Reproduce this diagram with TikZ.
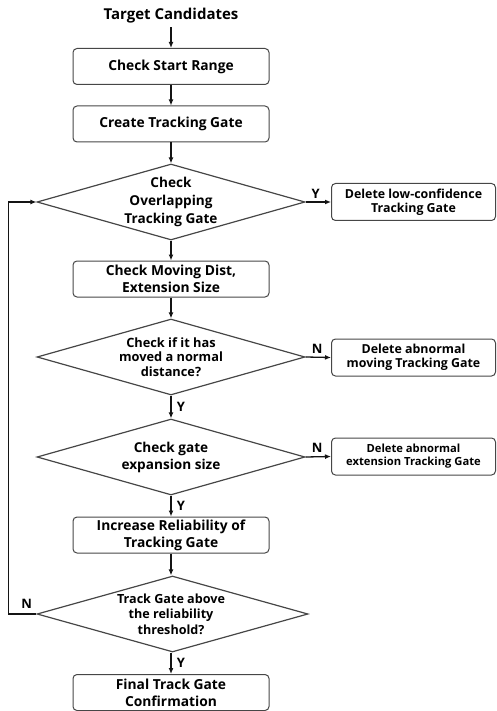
\documentclass[tikz,border=0pt]{standalone}
\usepackage{fontspec}
\setmainfont{Open Sans}
\usetikzlibrary{arrows.meta,positioning,shapes.geometric}
\definecolor{edgecol}{RGB}{70,70,70}
\definecolor{linecol}{RGB}{20,20,20}

\begin{document}
\begin{tikzpicture}[x=1pt,y=-1pt,
   box/.style={draw=edgecol,line width=1pt,rounded corners=4pt,minimum width=196pt,
     minimum height=36pt,inner sep=1pt,align=center,font=\fontsize{13.8}{17}\selectfont\bfseries},
   side/.style={draw=edgecol,line width=1pt,rounded corners=4pt,minimum width=164pt,
     minimum height=37pt,inner sep=1pt,align=center,font=\fontsize{12.4}{14}\selectfont\bfseries},
   decision/.style={diamond,draw=edgecol,line width=1.2pt,minimum width=268pt,
     minimum height=76pt,inner sep=0pt},
   dtext/.style={align=center,inner sep=0pt},
   arr/.style={draw=linecol,line width=1.3pt,-{Latex[length=6pt,width=5pt]}},
   lab/.style={font=\fontsize{13}{14}\selectfont\bfseries}]
  \useasboundingbox (0,0) rectangle (497,711);
  % main column
  \node[font=\fontsize{15}{17}\selectfont\bfseries] (start) at (171,16) {Target Candidates};
  \node[box] (range) at (171,66.5) {Check Start Range};
  \node[box] (create) at (171,124) {Create Tracking Gate};
  \node[decision] (d1) at (171,202) {};
  \node[dtext,font=\fontsize{13.6}{18}\selectfont\bfseries] (d1t) at (d1) {Check\\Overlapping\\Tracking Gate};
  \node[box] (dist) at (171,279) {Check Moving Dist,\\Extension Size};
  \node[decision] (d2) at (171,357) {};
  \node[dtext,font=\fontsize{12.8}{14.5}\selectfont\bfseries] (d2t) at (d2) {Check if it has\\moved a normal\\distance?};
  \node[decision] (d3) at (171,457) {};
  \node[dtext,font=\fontsize{13.6}{17}\selectfont\bfseries] (d3t) at (d3) {Check gate\\expansion size};
  \node[box] (incr) at (171,535) {Increase Reliability of\\Tracking Gate};
  \node[decision,minimum width=271pt] (d4) at (172.5,614) {};
  \node[dtext,font=\fontsize{12.6}{15.5}\selectfont\bfseries] (d4t) at (171,614) {Track Gate above\\the reliability\\threshold?};
  \node[box] (final) at (171,692.5) {Final Track Gate\\Confirmation};
  % side boxes
  \node[side] (del1) at (413.5,202) {Delete low-confidence\\Tracking Gate};
  \node[side] (del2) at (413.5,357.5) {Delete abnormal\\moving Tracking Gate};
  \node[side,font=\fontsize{11.2}{13}\selectfont\bfseries] (del3) at (413.5,456.5) {Delete abnormal\\extension Tracking Gate};
  % connectors
  \draw[arr] (start) -- (range);
  \draw[arr] (range) -- (create);
  \draw[arr] (create) -- (d1);
  \draw[arr] (d1) -- (dist);
  \draw[arr] (dist) -- (d2);
  \draw[arr] (d2) -- node[lab,right,xshift=2pt] {Y} (d3);
  \draw[arr] (d3) -- node[lab,right,xshift=2pt] {Y} (incr);
  \draw[arr] (incr) -- (d4.north -| incr.south);
  \draw[arr] (d4.south -| final.north) -- node[lab,right,xshift=2pt] {Y} (final);
  \draw[arr] (d1.east) -- node[lab,above,pos=0.4] {Y} (del1.west);
  \draw[arr] (d2.east) -- node[lab,above,pos=0.45] {N} (del2.west);
  \draw[arr] (d3.east) -- node[lab,above,pos=0.45] {N} (del3.west);
  \draw[arr] (d4.west) -- node[lab,above,pos=0.35,yshift=2pt] {N} ++(-28,0) |- (d1.west);
\end{tikzpicture}
\end{document}
